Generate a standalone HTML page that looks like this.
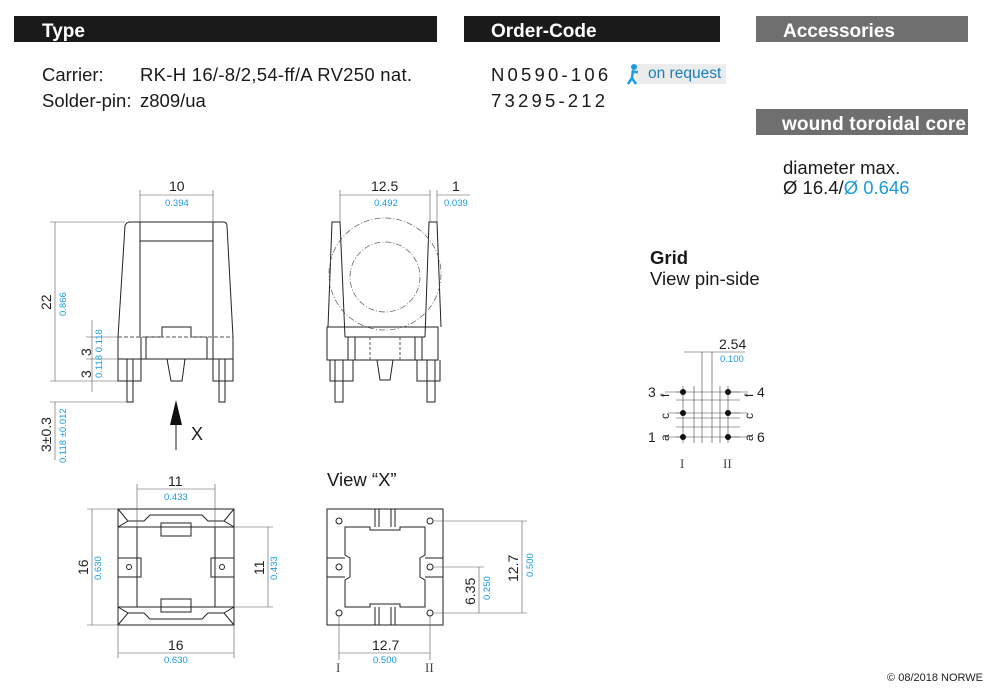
<!DOCTYPE html>
<html><head><meta charset="utf-8"><style>
html,body{margin:0;padding:0;background:#fff;width:1000px;height:698px;overflow:hidden}
svg{display:block;font-family:"Liberation Sans",sans-serif}
</style></head><body>
<svg width="1000" height="698" viewBox="0 0 1000 698" xmlns="http://www.w3.org/2000/svg">
<!-- headers -->
<rect x="14" y="16" width="423" height="26" fill="#1a1a1a"/>
<text x="42" y="37" font-size="19" font-weight="bold" fill="#fff">Type</text>
<rect x="464" y="16" width="256" height="26" fill="#1a1a1a"/>
<text x="491" y="37" font-size="19" font-weight="bold" fill="#fff">Order-Code</text>
<rect x="756" y="16" width="212" height="26" fill="#6f6f6f"/>
<text x="783" y="37" font-size="19" font-weight="bold" fill="#fff">Accessories</text>
<rect x="756" y="109" width="212" height="26" fill="#6f6f6f"/>
<text x="782" y="130" font-size="19" font-weight="bold" fill="#fff" textLength="184">wound toroidal core</text>

<g font-size="18.5" fill="#1a1a1a">
<text x="42" y="81">Carrier:</text><text x="140" y="81" textLength="272">RK-H 16/-8/2,54-ff/A RV250 nat.</text>
<text x="42" y="107">Solder-pin:</text><text x="140" y="107">z809/ua</text>
<text x="491" y="81" letter-spacing="3.2">N0590-106</text>
<text x="491" y="107" letter-spacing="3.2">73295-212</text>
<text x="783" y="174">diameter max.</text>
<text x="783" y="194">Ø 16.4/<tspan fill="#1b9be0">Ø 0.646</tspan></text>
<text x="650" y="264" font-weight="bold">Grid</text>
<text x="650" y="285">View pin-side</text>
<text x="327" y="486">View “X”</text>
</g>
<rect x="636" y="64" width="90" height="20" fill="#ececec"/>
<circle cx="634" cy="67" r="3" fill="#1b9be0"/>
<path d="M633 70 L632 78 L628 84 M632 78 L636 84 M633 72 L638 72" stroke="#1b9be0" stroke-width="2.5" fill="none"/>
<text x="648" y="78" font-size="15.5" fill="#1a7fb8">on request</text>

<g stroke="#222" stroke-width="1" fill="none">
<!-- front view -->
<path d="M118 337 L125 226 Q126 222 130 222 L223 222 Q227 222 227 226 L233 337"/>
<path d="M140 222 V337 M213 222 V337 M140 241 H213"/>
<path d="M118 337 V381 H141 V359 H146 V337 M118 359 H233 M207 337 V359 H213 V381 H233 V337"/>
<path d="M146 337 H162 V327 H191 V337 H207"/>
<path d="M167 359 L171 381 H182 L185 359"/>
<path d="M127 359 V402 H133 V359 M219 359 V402 H225 V359"/>
<path d="M141 337 V359 M213 337 V359"/>
</g>
<path d="M118 337 H233" stroke="#555" stroke-dasharray="4 2" fill="none"/>
<!-- front dims -->
<g stroke="#555" stroke-width="0.6" fill="none">
<path d="M140 190 V222 M213 190 V222 M140 195 H213"/>
<path d="M50 222 H125 M50 381 H118 M55 222 V381 M50 402 H127 M55 402 V460"/>
<path d="M86 337 H118 M86 359 H118 M92 320 V392"/>
</g>
<path d="M176 400 L170 425 H182 Z" fill="#111"/>
<path d="M176 425 V450" stroke="#222"/>
<text x="191" y="440" font-size="18" fill="#222">X</text>
<g font-size="14" fill="#222">
<text x="169" y="191">10</text>
<text transform="translate(51,310) rotate(-90)">22</text>
<text transform="translate(91,356) rotate(-90)">3</text>
<text transform="translate(91,378) rotate(-90)">3</text>
<text transform="translate(51,452) rotate(-90)">3±0.3</text>
</g>
<g font-size="9.5" fill="#1b9be0">
<text x="165" y="206">0.394</text>
<text transform="translate(66,316) rotate(-90)">0.866</text>
<text transform="translate(102,378) rotate(-90)">0.118 0.118</text>
<text transform="translate(66,463) rotate(-90)">0.118 ±0.012</text>
</g>

<!-- side view -->
<g stroke="#222" stroke-width="1" fill="none">
<path d="M328 327 L332 222 H340 L345 337 M441 327 L437 222 H429 L425 337"/>
<path d="M327 327 H438 V360 H327 Z M345 337 H425"/>
<path d="M348 337 V360 M355 337 V360 M415 337 V360 M422 337 V360"/>
<path d="M377 360 L380 380 H390 L393 360"/>
<path d="M335 360 V402 H343 V360 M427 360 V402 H435 V360 M330 360 V381 H353 V360 M417 360 V381 H440 V360"/>
</g>
<g stroke="#555" stroke-width="0.7" fill="none" stroke-dasharray="6 2 1 2">
<circle cx="385" cy="274" r="56"/>
<circle cx="385" cy="277" r="35"/>
</g>
<path d="M370 337 V360 M400 337 V360" stroke="#555" stroke-dasharray="3 2" fill="none"/>
<g stroke="#555" stroke-width="0.6" fill="none"><path d="M340 190 V222 M430 190 V222 M437 190 V222 M340 195 H430 M437 195 H470"/></g>
<text x="371" y="191" font-size="14" fill="#222">12.5</text>
<text x="452" y="191" font-size="14" fill="#222">1</text>
<text x="374" y="206" font-size="9.5" fill="#1b9be0">0.492</text>
<text x="444" y="206" font-size="9.5" fill="#1b9be0">0.039</text>

<!-- top view bottom-left -->
<g stroke="#222" stroke-width="1" fill="none">
<rect x="118" y="509" width="116" height="116"/>
<path d="M118 509 L128 521 H144 L150 515 H202 L208 521 H224 L234 509 M118 527 L128 521 M234 527 L224 521 M118 527 H234"/>
<path d="M118 625 L128 613 H144 L150 619 H202 L208 613 H224 L234 625 M118 607 L128 613 M234 607 L224 613 M118 607 H234"/>
<path d="M137 527 V607 M215 527 V607"/>
<rect x="161" y="523" width="30" height="13"/><rect x="161" y="599" width="30" height="13"/>
<path d="M118 558 H141 V577 H118 M234 558 H211 V577 H234"/>
<circle cx="129" cy="567" r="2.5"/><circle cx="222" cy="567" r="2.5"/>
</g>
<g stroke="#555" stroke-width="0.6" fill="none">
<path d="M137 484 V527 M215 484 V527 M137 489 H215"/>
<path d="M87 509 H118 M87 625 H118 M92 509 V625"/>
<path d="M118 625 V658 M234 625 V658 M118 653 H234"/>
<path d="M234 527 H273 M234 607 H273 M268 527 V607"/>
</g>
<g font-size="14" fill="#222">
<text x="168" y="486">11</text>
<text transform="translate(88,575) rotate(-90)">16</text>
<text x="168" y="650">16</text>
<text transform="translate(264,575) rotate(-90)">11</text>
</g>
<g font-size="9.5" fill="#1b9be0">
<text x="164" y="500">0.433</text>
<text transform="translate(101,580) rotate(-90)">0.630</text>
<text x="164" y="663">0.630</text>
<text transform="translate(277,580) rotate(-90)">0.433</text>
</g>

<!-- view X -->
<g stroke="#222" stroke-width="1" fill="none">
<rect x="327" y="509" width="116" height="116"/>
<path d="M345 527 H370 V530 H400 V527 H425 V555 L420 558 V577 L425 580 V607 H400 V604 H370 V607 H345 V580 L350 577 V558 L345 555 Z"/>
<path d="M375 509 V527 M379 509 V527 M391 509 V527 M395 509 V527 M375 607 V625 M379 607 V625 M391 607 V625 M395 607 V625"/>
<path d="M327 558 H345 M327 577 H345 M425 558 H443 M425 577 H443"/>
<circle cx="339" cy="521" r="3"/><circle cx="430" cy="521" r="3"/>
<circle cx="339" cy="567" r="3"/><circle cx="430" cy="567" r="3"/>
<circle cx="339" cy="613" r="3"/><circle cx="430" cy="613" r="3"/>
</g>
<g stroke="#555" stroke-width="0.6" fill="none">
<path d="M433 521 H527 M433 613 H527 M522 521 V613 M433 567 H484 M479 567 V613"/>
<path d="M339 616 V660 M430 616 V660 M339 653 H430"/>
</g>
<g font-size="14" fill="#222">
<text transform="translate(518,582) rotate(-90)">12.7</text>
<text transform="translate(475,605) rotate(-90)">6.35</text>
<text x="372" y="650">12.7</text>
</g>
<g font-size="9.5" fill="#1b9be0">
<text transform="translate(533,577) rotate(-90)">0.500</text>
<text transform="translate(490,600) rotate(-90)">0.250</text>
<text x="373" y="663">0.500</text>
</g>
<g font-family="Liberation Serif,serif" font-size="13" fill="#444">
<text x="336" y="672">I</text><text x="425" y="672">II</text>
<text x="680" y="468">I</text><text x="723" y="468">II</text>
</g>

<!-- grid -->
<g stroke="#444" stroke-width="0.6" fill="none">
<path d="M676 392 H740 M676 400 H740 M676 413 H740 M676 418 H740 M676 427 H740 M676 437 H740"/>
<path d="M683 386 V443 M694 386 V443 M702 352 V443 M712 352 V443 M720 386 V443 M728 386 V443"/>
<path d="M684 352 H745 M665 392 H683 M728 392 H748 M665 437 H683 M728 437 H748 M668 413 H683 M728 413 H748"/>
</g>
<g fill="#111">
<circle cx="683" cy="392" r="3"/><circle cx="728" cy="392" r="3"/>
<circle cx="683" cy="413" r="3"/><circle cx="728" cy="413" r="3"/>
<circle cx="683" cy="437" r="3"/><circle cx="728" cy="437" r="3"/>
</g>
<g font-size="14" fill="#222">
<text x="648" y="397">3</text><text x="648" y="442">1</text>
<text x="757" y="397">4</text><text x="757" y="442">6</text>
<text x="719" y="349">2.54</text>
</g>
<g font-size="12" fill="#222">
<text transform="translate(669,397) rotate(-90)">f</text>
<text transform="translate(669,419) rotate(-90)">c</text>
<text transform="translate(669,441) rotate(-90)">a</text>
<text transform="translate(753,397) rotate(-90)">f</text>
<text transform="translate(753,419) rotate(-90)">c</text>
<text transform="translate(753,441) rotate(-90)">a</text>
</g>
<text x="720" y="362" font-size="9.5" fill="#1b9be0">0.100</text>

<text x="983" y="681" font-size="11" fill="#222" text-anchor="end">© 08/2018 NORWE</text>
</svg>
</body></html>
